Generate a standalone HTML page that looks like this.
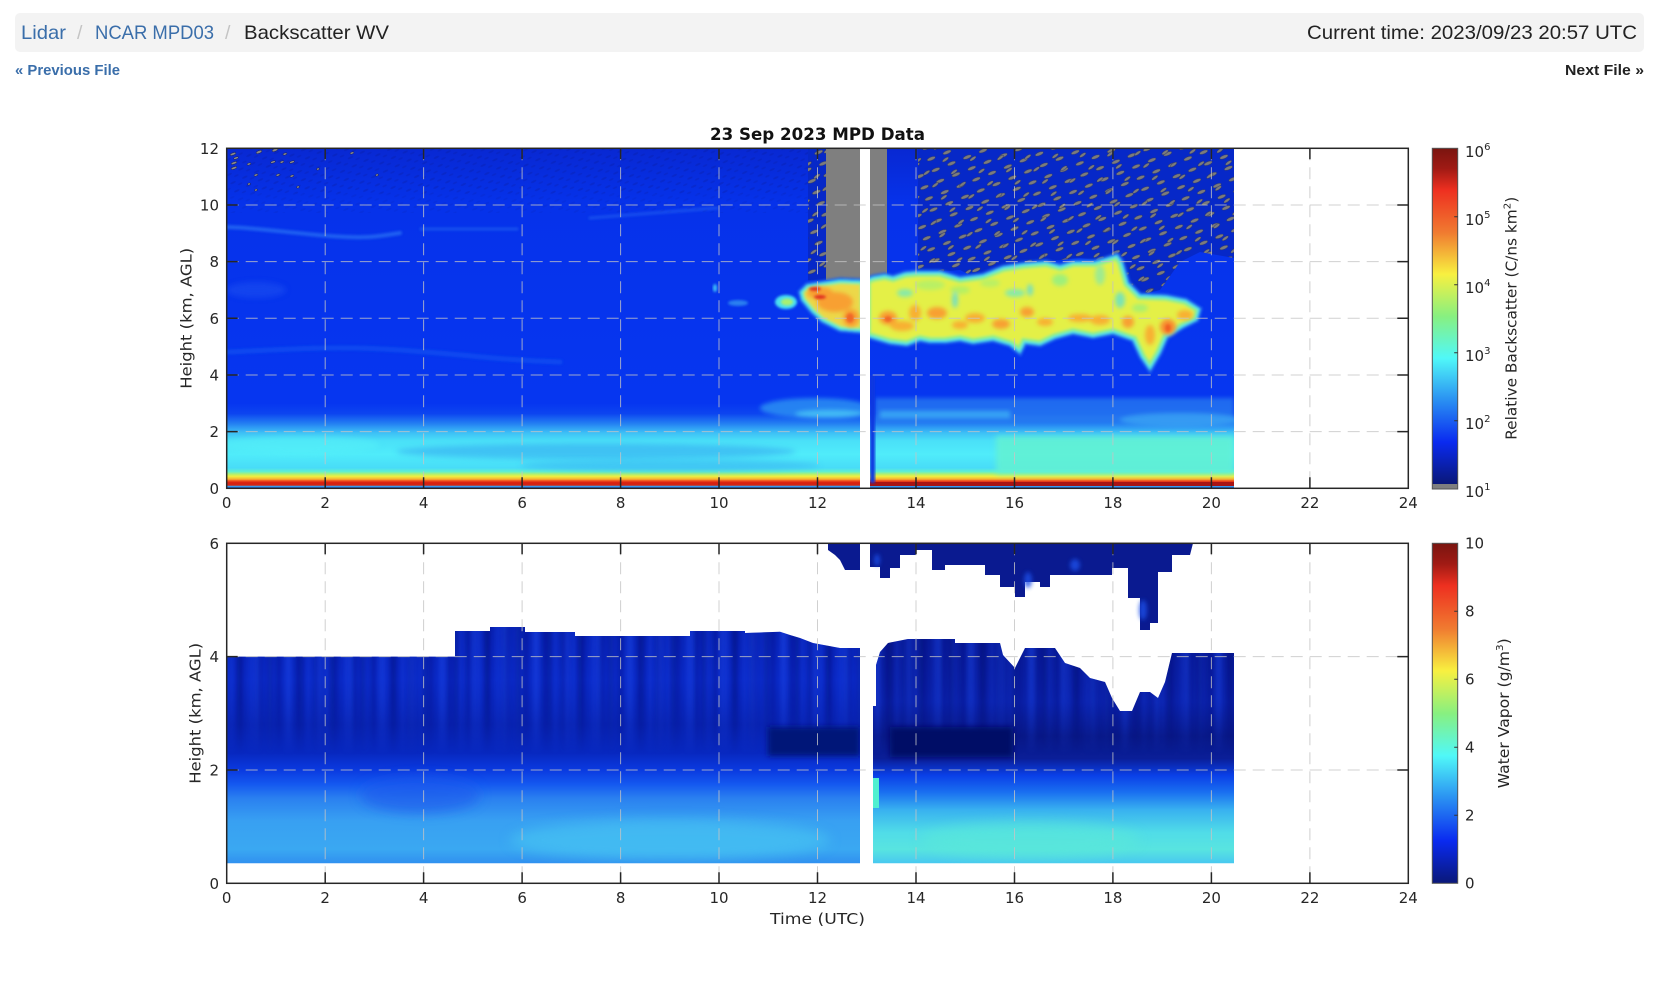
<!DOCTYPE html>
<html><head><meta charset="utf-8">
<style>
html,body{margin:0;padding:0;background:#fff;width:1653px;height:985px;overflow:hidden;}
svg{position:absolute;left:0;top:0;}
.tk{font-family:"DejaVu Sans","Liberation Sans",sans-serif;font-size:15px;fill:#262626;}
.hd{font-family:"Liberation Sans",sans-serif;}
</style></head><body>
<svg width="1653" height="985" viewBox="0 0 1653 985" xmlns="http://www.w3.org/2000/svg">
<defs>
<linearGradient id="jet" x1="0" y1="0" x2="0" y2="1">
<stop offset="0" stop-color="#7a1510"/><stop offset="0.06" stop-color="#a01a14"/>
<stop offset="0.125" stop-color="#ee3020"/><stop offset="0.25" stop-color="#f07a30"/>
<stop offset="0.375" stop-color="#f8f040"/><stop offset="0.5" stop-color="#88f080"/>
<stop offset="0.625" stop-color="#50f8f8"/><stop offset="0.75" stop-color="#2a90f2"/>
<stop offset="0.875" stop-color="#0a2af0"/><stop offset="1" stop-color="#0a1878"/>
</linearGradient>
<linearGradient id="topBase" gradientUnits="userSpaceOnUse" x1="0" y1="148.3" x2="0" y2="488.3">
<stop offset="0" stop-color="#0828d2"/><stop offset="0.16" stop-color="#0632ea"/>
<stop offset="0.75" stop-color="#0636f0"/><stop offset="0.78" stop-color="#0c44f0"/>
<stop offset="0.81" stop-color="#2480f2"/><stop offset="0.835" stop-color="#3cbcf6"/>
<stop offset="0.86" stop-color="#4ae0f8"/><stop offset="0.90" stop-color="#50ecfa"/>
<stop offset="0.94" stop-color="#48dcf8"/><stop offset="0.951" stop-color="#60f0d0"/>
<stop offset="0.9583" stop-color="#b0f070"/><stop offset="0.965" stop-color="#f0f040"/>
<stop offset="0.9733" stop-color="#f8b030"/><stop offset="0.978" stop-color="#f05020"/>
<stop offset="0.9833" stop-color="#d82010"/><stop offset="0.9917" stop-color="#d02818"/>
<stop offset="0.9933" stop-color="#40b0f0"/><stop offset="1" stop-color="#1848e8"/>
</linearGradient>
<linearGradient id="botL" gradientUnits="userSpaceOnUse" x1="0" y1="543.3" x2="0" y2="883.3">
<stop offset="0.25" stop-color="#0822b4"/><stop offset="0.4" stop-color="#0a28c4"/>
<stop offset="0.533" stop-color="#0822b0"/><stop offset="0.617" stop-color="#0828c0"/>
<stop offset="0.667" stop-color="#0a3ae0"/><stop offset="0.708" stop-color="#1458f0"/>
<stop offset="0.75" stop-color="#2a80f0"/><stop offset="0.817" stop-color="#38a0f2"/>
<stop offset="0.9" stop-color="#3aa8f2"/><stop offset="0.942" stop-color="#3090f0"/>
</linearGradient>
<linearGradient id="botR" gradientUnits="userSpaceOnUse" x1="0" y1="543.3" x2="0" y2="883.3">
<stop offset="0.283" stop-color="#081a98"/><stop offset="0.467" stop-color="#0a20a8"/>
<stop offset="0.567" stop-color="#081888"/><stop offset="0.633" stop-color="#0a1e98"/>
<stop offset="0.683" stop-color="#0a40e8"/><stop offset="0.733" stop-color="#1a70f0"/>
<stop offset="0.783" stop-color="#38b0f0"/><stop offset="0.85" stop-color="#50dce8"/>
<stop offset="0.9" stop-color="#58e4e0"/><stop offset="0.942" stop-color="#48c8f0"/>
</linearGradient>
<linearGradient id="fadeG" gradientUnits="userSpaceOnUse" x1="0" y1="625" x2="0" y2="755">
<stop offset="0" stop-color="#fff"/><stop offset="0.55" stop-color="#fff" stop-opacity="0.8"/><stop offset="1" stop-color="#000"/>
</linearGradient>
<mask id="fadeB"><rect x="0" y="600" width="1653" height="200" fill="url(#fadeG)"/></mask>
<pattern id="spkA" width="17" height="12" patternUnits="userSpaceOnUse" patternTransform="rotate(-22)">
<ellipse cx="5" cy="4" rx="4.5" ry="1.7" fill="#7c7c7c" stroke="#1a2460" stroke-width="0.4"/>
</pattern>
<pattern id="spkB" width="23" height="15" patternUnits="userSpaceOnUse" patternTransform="rotate(-35) translate(7,5)">
<ellipse cx="9" cy="8" rx="3.8" ry="1.5" fill="#7c7c7c" stroke="#1a2460" stroke-width="0.4"/>
</pattern>
<pattern id="dk" width="13" height="9" patternUnits="userSpaceOnUse" patternTransform="rotate(-25)">
<ellipse cx="4" cy="3" rx="3" ry="1" fill="#0a1890" opacity="0.7"/>
<ellipse cx="10" cy="7" rx="2.5" ry="0.9" fill="#0a1890" opacity="0.6"/>
</pattern>
<pattern id="vs" width="19" height="40" patternUnits="userSpaceOnUse">
<rect x="2" width="4" height="40" fill="#1a48f0"/>
<rect x="11" width="3" height="40" fill="#0a0f70"/>
</pattern>
<pattern id="vs3" width="31" height="40" patternUnits="userSpaceOnUse">
<rect x="6" width="6" height="40" fill="#2050f0"/>
<rect x="20" width="4" height="40" fill="#060c60"/>
</pattern>
<filter id="b1" x="-20%" y="-20%" width="140%" height="140%"><feGaussianBlur stdDeviation="1.2"/></filter>
<filter id="b2" x="-30%" y="-30%" width="160%" height="160%"><feGaussianBlur stdDeviation="2"/></filter>
<filter id="b3" x="-30%" y="-50%" width="160%" height="200%"><feGaussianBlur stdDeviation="3"/></filter>
<filter id="b6" x="-20%" y="-60%" width="140%" height="220%"><feGaussianBlur stdDeviation="6"/></filter>
<filter id="bvs" x="-5%" y="-5%" width="110%" height="110%"><feGaussianBlur stdDeviation="2.5 0"/></filter>
<clipPath id="ctop"><rect x="226.7" y="148.3" width="633.3" height="340"/><rect x="870" y="148.3" width="364" height="340"/></clipPath>
<path id="cloudR" d="M866,280 L873,277 L885,275 L893,277 L905,273 L916,272 L940,272 L960,278 L983,275 L1003,267 L1023,264 L1046,262 L1060,266 L1073,262 L1095,262 L1108,258 L1117,255 L1122,262 L1128,283 L1140,295 L1166,296 L1186,300 L1200,309 L1197,320 L1183,327 L1167,337 L1160,353 L1150,370 L1141,357 L1133,340 L1113,333 L1093,337 L1073,333 L1055,338 L1040,345 L1025,343 L1020,353 L1010,345 L993,340 L973,343 L960,340 L945,342 L930,342 L920,340 L907,345 L890,343 L866,336 Z"/>
<path id="cloudL" d="M864,281 L840,280 L820,283 L807,285 L800,292 L802,300 L812,312 L822,321 L840,330 L864,332 Z"/>
<clipPath id="ccR"><use href="#cloudR"/></clipPath>
<clipPath id="ccL"><use href="#cloudL"/></clipPath>
<clipPath id="cbL"><polygon points="226.7,863.3 226.7,656.6 455,656.6 455,631 490,631 490,627 525,627 525,632 575,632 575,636 690,636 690,631 745,631 745,633 780,631.7 790,635 800,638 813,643 840,648 860,648 860,863.3"/></clipPath>
<clipPath id="cbR"><polygon points="873,863.3 873,706 876,706 876,665 880,652 888,643 908,639 955,639 955,643 1000,643 1003,655 1015,668 1025,648 1055,648 1065,663 1080,668 1090,678 1105,682 1112,698 1120,711 1132,711 1140,692 1150,692 1158,698 1165,682 1172,653 1234,653 1234,863.3"/></clipPath>
</defs>

<!-- Header -->
<rect x="15" y="13" width="1629" height="39" rx="5" fill="#f3f3f3"/>
<text class="hd" x="21" y="39" font-size="19.5" fill="#3a6eaa" textLength="45" lengthAdjust="spacingAndGlyphs">Lidar</text>
<text class="hd" x="77" y="39" font-size="19.5" fill="#c4c4c4">/</text>
<text class="hd" x="95" y="39" font-size="19.5" fill="#3a6eaa" textLength="119" lengthAdjust="spacingAndGlyphs">NCAR MPD03</text>
<text class="hd" x="225" y="39" font-size="19.5" fill="#c4c4c4">/</text>
<text class="hd" x="244" y="39" font-size="19.5" fill="#222" textLength="145" lengthAdjust="spacingAndGlyphs">Backscatter WV</text>
<text class="hd" x="1637" y="39" font-size="19.5" fill="#222" text-anchor="end" textLength="330" lengthAdjust="spacingAndGlyphs">Current time: 2023/09/23 20:57 UTC</text>
<text class="hd" x="15" y="75" font-size="14.5" font-weight="bold" fill="#3a6eaa" textLength="105" lengthAdjust="spacingAndGlyphs">« Previous File</text>
<text class="hd" x="1644" y="75" font-size="14.5" font-weight="bold" fill="#222" text-anchor="end" textLength="79" lengthAdjust="spacingAndGlyphs">Next File »</text>

<!-- Title -->
<text x="817.5" y="140" text-anchor="middle" font-family="DejaVu Sans, Liberation Sans, sans-serif" font-weight="bold" font-size="16.5" fill="#111" textLength="215" lengthAdjust="spacingAndGlyphs">23 Sep 2023 MPD Data</text>

<!-- TOP PLOT DATA -->
<g clip-path="url(#ctop)">
<rect x="226.7" y="148.3" width="1007.3" height="340" fill="url(#topBase)"/>
<rect x="226.7" y="148.3" width="582" height="45" fill="url(#dk)" opacity="0.35"/>
<rect x="226.7" y="193" width="582" height="20" fill="url(#dk)" opacity="0.18"/>
<g filter="url(#b1)" fill="none" stroke-linecap="round">
<path d="M226.7,227 C260,228 290,233 330,236 S380,236 400,233" stroke="#2a70f4" stroke-width="4" opacity="0.75"/>
<path d="M421,229 L517,229" stroke="#2a70f4" stroke-width="3" opacity="0.5"/>
<path d="M590,218 C640,214 690,210 717,208" stroke="#2a70f4" stroke-width="3" opacity="0.45"/>
<path d="M226.7,352 C280,350 330,345 400,350 S500,360 560,362" stroke="#1c5cf2" stroke-width="5" opacity="0.5"/>
</g>
<ellipse cx="256" cy="290" rx="30" ry="8" fill="#1a50f0" opacity="0.6" filter="url(#b3)"/>
<ellipse cx="596" cy="451.5" rx="200" ry="8" fill="#34a8f0" opacity="0.6" filter="url(#b3)"/>
<ellipse cx="670" cy="465.6" rx="150" ry="6" fill="#38b0f0" opacity="0.5" filter="url(#b3)"/>
<ellipse cx="300" cy="445" rx="80" ry="9" fill="#56f2f8" opacity="0.5" filter="url(#b3)"/>
<rect x="996" y="436" width="238" height="38" fill="#64f2d2" opacity="0.85" filter="url(#b3)"/>
<rect x="870" y="482" width="364" height="4" fill="#a81414"/>
<g filter="url(#b2)">
<ellipse cx="815" cy="408" rx="55" ry="10" fill="#2c8ef2" opacity="0.85"/>
<ellipse cx="830" cy="414" rx="35" ry="4" fill="#48c8f8" opacity="0.8"/>
<rect x="875" y="398" width="359" height="24" fill="#2680f0" opacity="0.7"/>
<rect x="880" y="411" width="130" height="7" fill="#40b8f6" opacity="0.7"/>
<ellipse cx="1180" cy="420" rx="60" ry="7" fill="#3aa8f4" opacity="0.7"/>
</g>
<rect x="870" y="375" width="5" height="108" fill="#0a38e0" filter="url(#b1)"/>
<g fill="#888" stroke="#1a2060" stroke-width="0.5">
<ellipse cx="233" cy="154" rx="3" ry="1.2" transform="rotate(-20 233 154)"/>
<ellipse cx="236" cy="158" rx="2.5" ry="1.1" transform="rotate(-20 236 158)"/>
<ellipse cx="234" cy="163" rx="3" ry="1.2" transform="rotate(-20 234 163)"/>
<ellipse cx="234" cy="168" rx="3" ry="1.2" transform="rotate(-20 234 168)"/>
<ellipse cx="249" cy="164" rx="2" ry="1" transform="rotate(-20 249 164)"/>
<ellipse cx="259" cy="152" rx="3" ry="1.3" transform="rotate(-20 259 152)"/>
<ellipse cx="275" cy="150" rx="3" ry="1.3" transform="rotate(-20 275 150)"/>
<ellipse cx="273" cy="162" rx="2.5" ry="1.1" transform="rotate(-20 273 162)"/>
<ellipse cx="282" cy="162" rx="2" ry="1" transform="rotate(-20 282 162)"/>
<ellipse cx="285" cy="154" rx="2" ry="1" transform="rotate(-20 285 154)"/>
<ellipse cx="292" cy="162" rx="2.5" ry="1.1" transform="rotate(-20 292 162)"/>
<ellipse cx="256" cy="175" rx="2" ry="1" transform="rotate(-20 256 175)"/>
<ellipse cx="278" cy="175" rx="2" ry="1" transform="rotate(-20 278 175)"/>
<ellipse cx="292" cy="176" rx="2" ry="1" transform="rotate(-20 292 176)"/>
<ellipse cx="249" cy="184" rx="1.5" ry="1" transform="rotate(-20 249 184)"/>
<ellipse cx="256" cy="190" rx="1.5" ry="1" transform="rotate(-20 256 190)"/>
<ellipse cx="298" cy="187" rx="1.5" ry="1" transform="rotate(-20 298 187)"/>
<ellipse cx="318" cy="169" rx="1.5" ry="1" transform="rotate(-20 318 169)"/>
<ellipse cx="352" cy="153" rx="2" ry="1" transform="rotate(-20 352 153)"/>
<ellipse cx="377" cy="175" rx="1.5" ry="1" transform="rotate(-20 377 175)"/>
</g>
<polygon points="918,148.3 1234,148.3 1234,258 1200,252 1180,262 1160,290 1140,295 1125,282 1112,262 1080,258 1040,262 1010,278 1000,285 980,280 960,270 935,272 918,275" fill="#0628c8"/>
<polygon points="918,148.3 1234,148.3 1234,258 1200,252 1180,262 1160,290 1140,295 1125,282 1112,262 1080,258 1040,262 1010,278 1000,285 980,280 960,270 935,272 918,275" fill="url(#spkA)"/>
<polygon points="918,148.3 1234,148.3 1234,258 1200,252 1180,262 1160,290 1140,295 1125,282 1112,262 1080,258 1040,262 1010,278 1000,285 980,280 960,270 935,272 918,275" fill="url(#spkB)"/>
<rect x="808" y="148.3" width="18" height="132" fill="#0628c8"/>
<rect x="808" y="148.3" width="18" height="132" fill="url(#spkA)"/>
<rect x="808" y="148.3" width="18" height="132" fill="url(#spkB)"/>
<rect x="826" y="148.3" width="34" height="131.7" fill="#7f7f7f"/>
<rect x="870" y="148.3" width="17" height="135" fill="#7f7f7f"/>
<ellipse cx="738" cy="303" rx="10" ry="3" fill="#2a80f0" filter="url(#b1)"/>
<ellipse cx="715" cy="288" rx="2" ry="4" fill="#40c0f8" filter="url(#b1)"/>
<ellipse cx="786" cy="302" rx="11" ry="7" fill="#48e0f0" filter="url(#b1)"/>
<ellipse cx="787" cy="302" rx="6" ry="3.5" fill="#a8f070" filter="url(#b1)"/>
<g filter="url(#b1)">
<use href="#cloudR" fill="none" stroke="#1c60f0" stroke-width="5"/>
<use href="#cloudL" fill="none" stroke="#1c60f0" stroke-width="5"/>
<use href="#cloudR" fill="#e4f046"/>
<use href="#cloudL" fill="#ecd848"/>
<g clip-path="url(#ccR)">
<use href="#cloudR" fill="none" stroke="#90f080" stroke-width="10"/>
<use href="#cloudR" fill="none" stroke="#44e0f2" stroke-width="4"/>
</g>
<g clip-path="url(#ccL)">
<use href="#cloudL" fill="none" stroke="#90f080" stroke-width="8"/>
<use href="#cloudL" fill="none" stroke="#44e0f2" stroke-width="4"/>
</g>
</g>
<g filter="url(#b2)">
<ellipse cx="1015" cy="293" rx="10" ry="4" fill="#70e8c0" opacity="0.8"/>
<ellipse cx="905" cy="293" rx="8" ry="4" fill="#70e8c0" opacity="0.8"/>
<ellipse cx="1120" cy="300" rx="5" ry="8" fill="#60e0d0" opacity="0.8"/>
<ellipse cx="960" cy="290" rx="10" ry="4" fill="#a0f070" opacity="0.7"/>
<ellipse cx="930" cy="285" rx="15" ry="5" fill="#a8f070" opacity="0.7"/>
<ellipse cx="990" cy="283" rx="10" ry="4" fill="#a8f070" opacity="0.7"/>
<ellipse cx="1060" cy="280" rx="8" ry="6" fill="#80f090" opacity="0.7"/>
<ellipse cx="1100" cy="275" rx="5" ry="10" fill="#70e8c0" opacity="0.6"/>
<ellipse cx="1140" cy="308" rx="8" ry="4" fill="#90f080" opacity="0.7"/>
<ellipse cx="955" cy="300" rx="3" ry="8" fill="#48d8f0" opacity="0.7"/>
<ellipse cx="1030" cy="290" rx="3" ry="6" fill="#48d8f0" opacity="0.7"/>
<ellipse cx="888" cy="318" rx="9" ry="7" fill="#f8a030"/>
<ellipse cx="902" cy="326" rx="12" ry="5" fill="#f8b030"/>
<ellipse cx="915" cy="313" rx="6" ry="8" fill="#f8b030"/>
<ellipse cx="937" cy="313" rx="10" ry="6" fill="#f8a030"/>
<ellipse cx="975" cy="318" rx="10" ry="5" fill="#f8b030"/>
<ellipse cx="1001" cy="324" rx="9" ry="5" fill="#f8a030"/>
<ellipse cx="1027" cy="312" rx="7" ry="5" fill="#f8a030"/>
<ellipse cx="1045" cy="322" rx="8" ry="4" fill="#f8b030"/>
<ellipse cx="1100" cy="320" rx="10" ry="5" fill="#f8b030"/>
<ellipse cx="1168" cy="327" rx="8" ry="8" fill="#f89030"/>
<ellipse cx="1150" cy="335" rx="5" ry="10" fill="#f8b030"/>
<ellipse cx="1185" cy="315" rx="8" ry="5" fill="#f8b030"/>
<ellipse cx="1128" cy="322" rx="6" ry="6" fill="#f8a030"/>
<ellipse cx="1080" cy="318" rx="12" ry="4" fill="#f8b030"/>
<ellipse cx="960" cy="325" rx="8" ry="4" fill="#f8b030"/>
<ellipse cx="851" cy="318" rx="8" ry="9" fill="#f8a030"/>
<ellipse cx="835" cy="302" rx="18" ry="10" fill="#f8a030"/>
<ellipse cx="820" cy="293" rx="13" ry="6" fill="#f8a030"/>
</g>
<g filter="url(#b1)" fill="#e03020">
<ellipse cx="815" cy="289" rx="6" ry="2"/>
<ellipse cx="820" cy="297" rx="6" ry="2"/>
<ellipse cx="1168" cy="328" rx="3" ry="4" fill="#f06020"/>
<ellipse cx="888" cy="319" rx="4" ry="3" fill="#f06828"/>
<ellipse cx="850" cy="318" rx="4" ry="5" fill="#f06828"/>
</g>
</g>

<!-- BOTTOM PLOT DATA -->
<g clip-path="url(#cbL)">
<rect x="226.7" y="620" width="640" height="250" fill="url(#botL)"/>
<g mask="url(#fadeB)">
<rect x="226.7" y="625" width="640" height="130" fill="url(#vs)" opacity="0.4" filter="url(#bvs)"/>
<rect x="226.7" y="625" width="640" height="130" fill="url(#vs3)" opacity="0.35" filter="url(#bvs)"/>
</g>
<ellipse cx="670" cy="840" rx="160" ry="20" fill="#48c8f2" opacity="0.6" filter="url(#b6)"/>
<ellipse cx="420" cy="795" rx="60" ry="18" fill="#1a58ec" opacity="0.6" filter="url(#b6)"/>
<rect x="768" y="727" width="92" height="29" fill="#061478" filter="url(#b3)"/>
</g>
<g clip-path="url(#cbR)">
<rect x="870" y="630" width="370" height="240" fill="url(#botR)"/>
<g mask="url(#fadeB)">
<rect x="870" y="630" width="370" height="125" fill="url(#vs3)" opacity="0.4" filter="url(#bvs)"/>
<rect x="870" y="630" width="370" height="125" fill="url(#vs)" opacity="0.3" filter="url(#bvs)"/>
</g>
<rect x="890" y="727" width="123" height="30" fill="#050f66" filter="url(#b3)"/>
<ellipse cx="1030" cy="840" rx="110" ry="18" fill="#5ae8d8" opacity="0.6" filter="url(#b6)"/>
<rect x="873" y="778" width="6" height="30" fill="#50f0d0"/>
</g>
<g fill="#0a1a90">
<polygon points="828,543.3 828,550 835,555 840,560 845,570 860,570 860,543.3"/>
<polygon points="870,543.3 870,567 880,567 880,578 890,578 890,568 900,568 900,555 916,555 916,550 932,550 932,570 945,570 945,565 985,565 985,575 1000,575 1000,587 1015,587 1015,597 1025,597 1025,582 1040,582 1040,587 1050,587 1050,575 1112,575 1112,568 1128,568 1128,598 1140,598 1140,630 1150,630 1150,623 1158,623 1158,572 1172,572 1172,555 1190,555 1193,543.3"/>
</g>
<g filter="url(#b2)" fill="#1a50e8" opacity="0.8">
<ellipse cx="1028" cy="580" rx="4" ry="8"/>
<ellipse cx="877" cy="560" rx="3" ry="6"/>
<ellipse cx="1075" cy="565" rx="5" ry="6"/>
<ellipse cx="1143" cy="610" rx="4" ry="10"/>
</g>

<!-- GRID -->
<g stroke="#c4c4c4" stroke-opacity="0.8" stroke-width="1" stroke-dasharray="12,7" fill="none">
<path d="M325.2,148.3V488.3M423.6,148.3V488.3M522.1,148.3V488.3M620.6,148.3V488.3M719,148.3V488.3M817.5,148.3V488.3M916,148.3V488.3M1014.5,148.3V488.3M1112.9,148.3V488.3M1211.4,148.3V488.3M1309.9,148.3V488.3"/>
<path d="M226.7,431.6H1408.3M226.7,375H1408.3M226.7,318.3H1408.3M226.7,261.6H1408.3M226.7,205H1408.3"/>
<path d="M325.2,543.3V883.3M423.6,543.3V883.3M522.1,543.3V883.3M620.6,543.3V883.3M719,543.3V883.3M817.5,543.3V883.3M916,543.3V883.3M1014.5,543.3V883.3M1112.9,543.3V883.3M1211.4,543.3V883.3M1309.9,543.3V883.3"/>
<path d="M226.7,770H1408.3M226.7,656.6H1408.3"/>
</g>

<!-- AXES -->
<g stroke="#262626" stroke-width="1.5" fill="none">
<rect x="226.7" y="148.3" width="1181.6" height="340"/>
<rect x="226.7" y="543.3" width="1181.6" height="340"/>
<path d="M325.2,488.3v-11M423.6,488.3v-11M522.1,488.3v-11M620.6,488.3v-11M719,488.3v-11M817.5,488.3v-11M916,488.3v-11M1014.5,488.3v-11M1112.9,488.3v-11M1211.4,488.3v-11M1309.9,488.3v-11"/>
<path d="M325.2,148.3v11M423.6,148.3v11M522.1,148.3v11M620.6,148.3v11M719,148.3v11M817.5,148.3v11M916,148.3v11M1014.5,148.3v11M1112.9,148.3v11M1211.4,148.3v11M1309.9,148.3v11"/>
<path d="M226.7,431.6h11M226.7,375h11M226.7,318.3h11M226.7,261.6h11M226.7,205h11"/>
<path d="M1408.3,431.6h-11M1408.3,375h-11M1408.3,318.3h-11M1408.3,261.6h-11M1408.3,205h-11"/>
<path d="M325.2,883.3v-11M423.6,883.3v-11M522.1,883.3v-11M620.6,883.3v-11M719,883.3v-11M817.5,883.3v-11M916,883.3v-11M1014.5,883.3v-11M1112.9,883.3v-11M1211.4,883.3v-11M1309.9,883.3v-11"/>
<path d="M325.2,543.3v11M423.6,543.3v11M522.1,543.3v11M620.6,543.3v11M719,543.3v11M817.5,543.3v11M916,543.3v11M1014.5,543.3v11M1112.9,543.3v11M1211.4,543.3v11M1309.9,543.3v11"/>
<path d="M226.7,770h11M226.7,656.6h11M1408.3,770h-11M1408.3,656.6h-11"/>
</g>

<!-- TICK LABELS -->
<g class="tk" text-anchor="middle">
<text x="226.7" y="508">0</text><text x="325.2" y="508">2</text><text x="423.6" y="508">4</text><text x="522.1" y="508">6</text><text x="620.6" y="508">8</text><text x="719" y="508">10</text><text x="817.5" y="508">12</text><text x="916" y="508">14</text><text x="1014.5" y="508">16</text><text x="1112.9" y="508">18</text><text x="1211.4" y="508">20</text><text x="1309.9" y="508">22</text><text x="1408.3" y="508">24</text>
<text x="226.7" y="903">0</text><text x="325.2" y="903">2</text><text x="423.6" y="903">4</text><text x="522.1" y="903">6</text><text x="620.6" y="903">8</text><text x="719" y="903">10</text><text x="817.5" y="903">12</text><text x="916" y="903">14</text><text x="1014.5" y="903">16</text><text x="1112.9" y="903">18</text><text x="1211.4" y="903">20</text><text x="1309.9" y="903">22</text><text x="1408.3" y="903">24</text>
</g>
<g class="tk" text-anchor="end">
<text x="219" y="493.8">0</text><text x="219" y="437.1">2</text><text x="219" y="380.5">4</text><text x="219" y="323.8">6</text><text x="219" y="267.1">8</text><text x="219" y="210.5">10</text><text x="219" y="153.8">12</text>
<text x="219" y="888.8">0</text><text x="219" y="775.5">2</text><text x="219" y="662.1">4</text><text x="219" y="548.8">6</text>
</g>

<!-- AXIS LABELS -->
<text class="tk" font-size="16" x="817.5" y="924" text-anchor="middle" textLength="95" lengthAdjust="spacingAndGlyphs">Time (UTC)</text>
<text class="tk" transform="translate(186,318.3) rotate(-90)" dy="0.35em" text-anchor="middle" textLength="141" lengthAdjust="spacingAndGlyphs">Height (km, AGL)</text>
<text class="tk" transform="translate(195,713.3) rotate(-90)" dy="0.35em" text-anchor="middle" textLength="141" lengthAdjust="spacingAndGlyphs">Height (km, AGL)</text>

<!-- COLORBARS -->
<rect x="1432.3" y="148.3" width="25.4" height="335.7" fill="url(#jet)"/>
<rect x="1432.3" y="484" width="25.4" height="5" fill="#7f7f7f"/>
<rect x="1432.3" y="148.3" width="25.4" height="340.7" fill="none" stroke="#555" stroke-width="1"/>
<g stroke="#333" stroke-width="1"><path d="M1457.7,216.7h-3.5M1457.7,284.7h-3.5M1457.7,352.7h-3.5M1457.7,420.7h-3.5"/></g>
<rect x="1432.3" y="543.3" width="25.4" height="340" fill="url(#jet)" stroke="#555" stroke-width="1"/>
<g stroke="#333" stroke-width="1"><path d="M1457.7,611.3h-3.5M1457.7,679.3h-3.5M1457.7,747.3h-3.5M1457.7,815.3h-3.5"/></g>
<g class="tk" font-size="14.5">
<text x="1465" y="157">10<tspan font-size="10" dy="-7">6</tspan></text>
<text x="1465" y="225">10<tspan font-size="10" dy="-7">5</tspan></text>
<text x="1465" y="293">10<tspan font-size="10" dy="-7">4</tspan></text>
<text x="1465" y="361">10<tspan font-size="10" dy="-7">3</tspan></text>
<text x="1465" y="429">10<tspan font-size="10" dy="-7">2</tspan></text>
<text x="1465" y="497">10<tspan font-size="10" dy="-7">1</tspan></text>
<text x="1465" y="548.5">10</text><text x="1465" y="616.5">8</text><text x="1465" y="684.5">6</text><text x="1465" y="752.5">4</text><text x="1465" y="820.5">2</text><text x="1465" y="888.5">0</text>
</g>
<text class="tk" transform="translate(1511,318.3) rotate(-90)" dy="0.35em" text-anchor="middle" textLength="243" lengthAdjust="spacingAndGlyphs">Relative Backscatter (C/ns km<tspan font-size="10" dy="-6">2</tspan><tspan dy="6">)</tspan></text>
<text class="tk" transform="translate(1503.5,713.3) rotate(-90)" dy="0.35em" text-anchor="middle" textLength="150" lengthAdjust="spacingAndGlyphs">Water Vapor (g/m<tspan font-size="10" dy="-6">3</tspan><tspan dy="6">)</tspan></text>
</svg>
</body></html>
